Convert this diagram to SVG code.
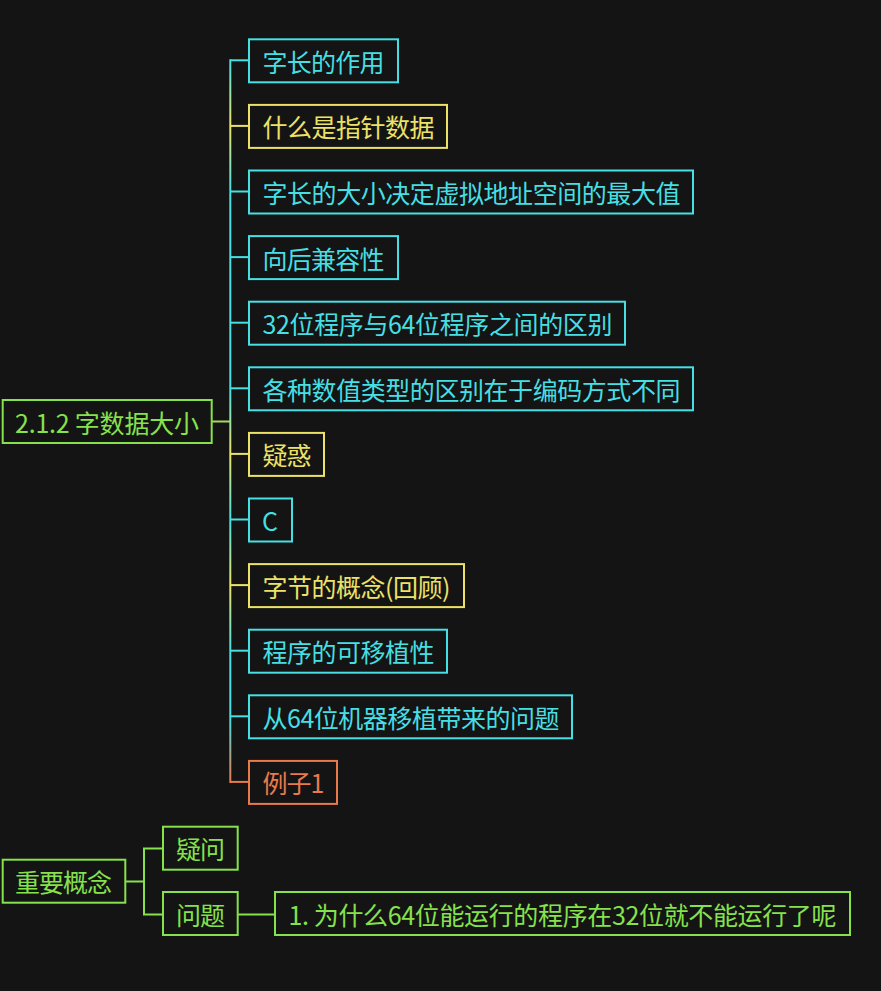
<svg xmlns="http://www.w3.org/2000/svg" width="881" height="991" viewBox="0 0 881 991">
<defs>
<style>
.t{font-family:"Noto Sans CJK SC","Noto Sans",sans-serif;font-size:25px;dominant-baseline:central}
.box{fill:#141414;stroke-width:2}
.cy rect{stroke:#45dfe4}.cy text{fill:#45dfe4}
.ye rect{stroke:#ece267}.ye text{fill:#ece267}
.gr rect{stroke:#86e24c}.gr text{fill:#86e24c}
.or rect{stroke:#e87a4c}.or text{fill:#e87a4c}
.ln{fill:none;stroke-width:2}
</style>
<linearGradient id="trunk" gradientUnits="userSpaceOnUse" x1="0" y1="60.3" x2="0" y2="781.9">
<stop offset="0" stop-color="#45dfe4"/>
<stop offset="0.0909" stop-color="#ece267"/>
<stop offset="0.1818" stop-color="#45dfe4"/>
<stop offset="0.4545" stop-color="#45dfe4"/>
<stop offset="0.5454" stop-color="#ece267"/>
<stop offset="0.6364" stop-color="#45dfe4"/>
<stop offset="0.7273" stop-color="#ece267"/>
<stop offset="0.8182" stop-color="#45dfe4"/>
<stop offset="0.9091" stop-color="#45dfe4"/>
<stop offset="1" stop-color="#e87a4c"/>
</linearGradient>
</defs>
<rect x="0" y="0" width="881" height="991" fill="#141414"/>
<g id="connectors">
<line class="ln" x1="212" y1="421.5" x2="230.3" y2="421.5" stroke="#a8d85a"/>
<line class="ln" x1="230.3" y1="60.3" x2="230.3" y2="781.9" stroke="url(#trunk)" stroke-linecap="square"/>
<line class="ln" x1="230.3" y1="60.3" x2="249" y2="60.3" stroke="#45dfe4"/>
<line class="ln" x1="230.3" y1="125.9" x2="249" y2="125.9" stroke="#ece267"/>
<line class="ln" x1="230.3" y1="191.5" x2="249" y2="191.5" stroke="#45dfe4"/>
<line class="ln" x1="230.3" y1="257.1" x2="249" y2="257.1" stroke="#45dfe4"/>
<line class="ln" x1="230.3" y1="322.7" x2="249" y2="322.7" stroke="#45dfe4"/>
<line class="ln" x1="230.3" y1="388.3" x2="249" y2="388.3" stroke="#45dfe4"/>
<line class="ln" x1="230.3" y1="453.9" x2="249" y2="453.9" stroke="#ece267"/>
<line class="ln" x1="230.3" y1="519.5" x2="249" y2="519.5" stroke="#45dfe4"/>
<line class="ln" x1="230.3" y1="585.1" x2="249" y2="585.1" stroke="#ece267"/>
<line class="ln" x1="230.3" y1="650.7" x2="249" y2="650.7" stroke="#45dfe4"/>
<line class="ln" x1="230.3" y1="716.3" x2="249" y2="716.3" stroke="#45dfe4"/>
<line class="ln" x1="230.3" y1="781.9" x2="249" y2="781.9" stroke="#e87a4c"/>
<path class="ln" d="M126 881.5H144M162 848.5H144V914.5H162M238 914.5H275" stroke="#86e24c"/>
</g>
<g id="root" class="gr"><rect class="box" x="2.7" y="400" width="209" height="43"/><text class="t" x="15" y="421.5" textLength="184">2.1.2 字数据大小</text></g>
<g id="n1" class="cy"><rect class="box" x="249" y="39.3" width="149" height="43"/><text class="t" x="262.5" y="60.8" textLength="122">字长的作用</text></g>
<g id="n2" class="ye"><rect class="box" x="249" y="104.9" width="198" height="43"/><text class="t" x="262.5" y="126.4" textLength="172">什么是指针数据</text></g>
<g id="n3" class="cy"><rect class="box" x="249" y="170.5" width="444" height="43"/><text class="t" x="262.5" y="192" textLength="418">字长的大小决定虚拟地址空间的最大值</text></g>
<g id="n4" class="cy"><rect class="box" x="249" y="236.1" width="149" height="43"/><text class="t" x="262.5" y="257.6" textLength="122">向后兼容性</text></g>
<g id="n5" class="cy"><rect class="box" x="249" y="301.7" width="376" height="43"/><text class="t" x="262.5" y="323.2" textLength="350">32位程序与64位程序之间的区别</text></g>
<g id="n6" class="cy"><rect class="box" x="249" y="367.3" width="444" height="43"/><text class="t" x="262.5" y="388.8" textLength="418">各种数值类型的区别在于编码方式不同</text></g>
<g id="n7" class="ye"><rect class="box" x="249" y="432.9" width="75" height="43"/><text class="t" x="262.5" y="454.4" textLength="49">疑惑</text></g>
<g id="n8" class="cy"><rect class="box" x="249" y="498.5" width="43" height="43"/><text class="t" x="262" y="520">C</text></g>
<g id="n9" class="ye"><rect class="box" x="249" y="564.1" width="215" height="43"/><text class="t" x="262.5" y="585.6" textLength="188">字节的概念(回顾)</text></g>
<g id="n10" class="cy"><rect class="box" x="249" y="629.7" width="198" height="43"/><text class="t" x="262.5" y="651.2" textLength="172">程序的可移植性</text></g>
<g id="n11" class="cy"><rect class="box" x="249" y="695.3" width="323" height="43"/><text class="t" x="262.5" y="716.8" textLength="297">从64位机器移植带来的问题</text></g>
<g id="n12" class="or"><rect class="box" x="249" y="760.9" width="88" height="43"/><text class="t" x="262.5" y="782.4" textLength="62">例子1</text></g>
<g id="m0" class="gr"><rect class="box" x="2.7" y="859.7" width="122.6" height="43"/><text class="t" x="15" y="881.2" textLength="97">重要概念</text></g>
<g id="m1" class="gr"><rect class="box" x="163" y="826.7" width="74.7" height="43"/><text class="t" x="176" y="848.2" textLength="49">疑问</text></g>
<g id="m2" class="gr"><rect class="box" x="163" y="892" width="74.7" height="43"/><text class="t" x="176" y="913.5" textLength="49">问题</text></g>
<g id="m3" class="gr"><rect class="box" x="275" y="892" width="575" height="43"/><text class="t" x="288.5" y="913.5" textLength="548">1. 为什么64位能运行的程序在32位就不能运行了呢</text></g>
</svg>
